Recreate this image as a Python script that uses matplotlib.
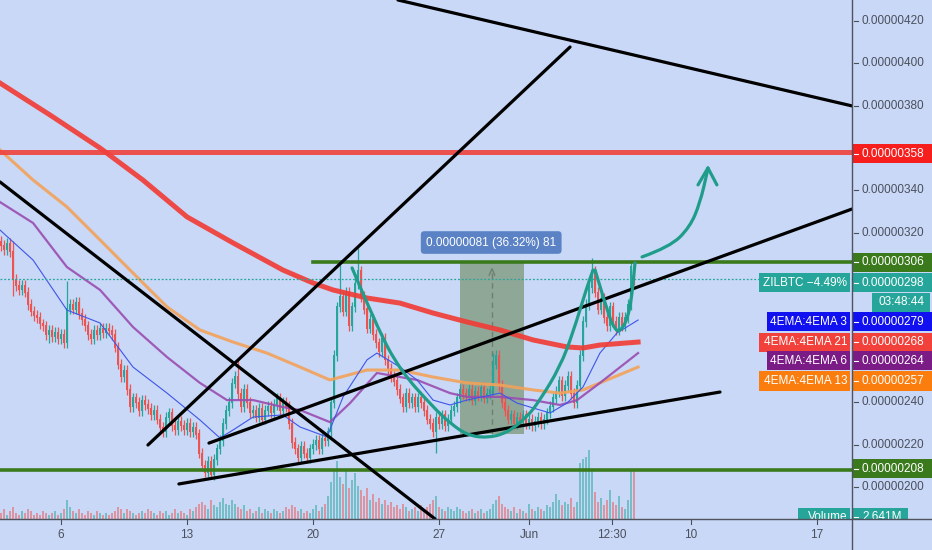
import matplotlib
matplotlib.use("Agg")
import matplotlib.pyplot as plt
from matplotlib.patches import Rectangle, PathPatch
from matplotlib.path import Path
from matplotlib.lines import Line2D
import numpy as np

plt.rcParams['font.family'] = ['Liberation Sans', 'DejaVu Sans']

# ---- data (prices in satoshi, time in days since May 1, 4h candles) ----
first_candle_day = 1.667
closes = [
    314, 312, 315, 311, 298, 295,
    293, 295, 292, 286, 283, 281,
    280, 277, 276, 272, 274, 271,
    273, 270, 272, 268, 284, 286,
    284, 287, 282, 279, 276, 272,
    270, 274, 272, 275, 273, 275,
    274, 272, 266, 258, 252, 255,
    246, 238, 242, 240, 236, 241,
    239, 237, 234, 236, 232, 228,
    226, 233, 235, 229, 227, 231,
    229, 227, 230, 226, 228, 225,
    216, 210, 207, 212, 206, 213,
    218, 222, 230, 236, 240, 249,
    252, 244, 238, 246, 240, 235,
    236, 233, 237, 232, 236, 238,
    235, 239, 242, 236, 240, 238,
    230, 221, 218, 214, 219, 216,
    214, 218, 220, 222, 218, 223,
    222, 226, 240, 262, 285, 290,
    283, 292, 276, 285, 296, 302,
    290, 284, 275, 279, 272, 268,
    264, 270, 260, 256, 252, 250,
    246, 242, 238, 244, 240, 242,
    238, 242, 240, 236, 232, 230,
    226, 233, 230, 234, 229, 232,
    236, 238, 242, 246, 244, 243,
    246, 241, 245, 243, 247, 242,
    244, 246, 258, 262, 248, 240,
    236, 232, 234, 230, 233, 231,
    234, 230, 232, 229, 231, 233,
    230, 232, 235, 238, 242, 245,
    250, 243, 248, 252, 244, 240,
    248, 262, 278, 286, 294, 302,
    292, 284, 289, 280, 276, 285,
    278, 274, 280, 276, 280, 286,
    304, 298,
]
first_open = 316
spike_high = {4: 316, 22: 297, 79: 260, 113: 305, 119: 313, 164: 263, 197: 308, 210: 306}
spike_low = {4: 290, 16: 268, 70: 204.5, 145: 216}

volumes = [  # millions
    0.3, 0.5, 0.2, 0.4, 0.6, 0.3,
    0.2, 0.4, 0.3, 0.5, 0.4, 0.2,
    0.3, 0.2, 0.4, 0.3, 0.2, 0.3,
    0.4, 0.2, 0.3, 0.5, 1.0, 0.6,
    0.4, 0.3, 0.5, 0.3, 0.2, 0.4,
    0.3, 0.2, 0.4, 0.3, 0.2, 0.3,
    0.2, 0.3, 0.4, 0.6, 0.5, 0.3,
    0.5, 0.4, 0.3, 0.2, 0.3, 0.4,
    0.3, 0.5, 0.4, 0.3, 0.2, 0.4,
    0.3, 0.4, 0.2, 0.3, 0.5, 0.3,
    0.4, 0.3, 0.2, 0.5, 0.4, 0.6,
    0.8, 0.9, 0.7, 0.5, 1.0, 0.7,
    0.6, 0.9, 1.1, 0.8, 0.7, 1.0,
    0.8, 0.6, 0.5, 0.7, 0.4, 0.5,
    0.3, 0.4, 0.6, 0.3, 0.5, 0.4,
    0.3, 0.5, 0.4, 0.3, 0.4, 0.6,
    0.5, 0.7, 0.6, 0.4, 0.5, 0.3,
    0.4, 0.3, 0.5, 0.7, 0.4, 0.6,
    0.8, 1.2, 1.9, 2.5, 3.0, 2.2,
    1.8, 2.6, 1.6, 2.0, 2.4, 1.7,
    1.5, 1.2, 1.6, 1.0, 1.3, 0.9,
    1.1, 0.8, 1.0, 0.7, 0.9, 0.6,
    0.7, 0.5, 0.8, 0.6, 0.4, 0.5,
    0.6, 0.4, 0.7, 0.5, 0.6, 0.8,
    1.0, 1.2, 0.6, 0.5, 0.4, 0.6,
    0.5, 0.4, 0.6, 0.5, 0.4, 0.3,
    0.4, 0.5, 0.3, 0.4, 0.5, 0.3,
    0.4, 0.5, 0.8, 1.0, 1.2, 0.8,
    0.6, 0.5, 0.4, 0.6, 0.3, 0.5,
    0.4, 0.3, 0.8, 0.5, 0.4, 0.6,
    0.5, 0.4, 0.7, 0.6, 0.9, 1.3,
    1.0, 0.7, 0.9, 0.8, 1.1, 0.6,
    0.9, 2.9, 3.1, 3.2, 3.6, 2.5,
    1.4, 0.9, 1.1, 0.7, 1.0, 1.5,
    0.9, 0.7, 1.2, 0.6, 0.5, 1.0,
    2.5, 2.6,
]

ema_red_d = [1.61, 4.39, 7.17, 9.55, 12.0, 14.56, 17.33, 19.0, 20.11, 22.0, 23.83, 25.67, 27.55, 29.39, 31.22, 33.11, 34.0, 34.94, 37.06]
ema_red_v = [390.7, 375.6, 360.0, 344.9, 327.5, 315.2, 302.4, 296.3, 293.0, 289.2, 286.8, 282.1, 277.9, 274.1, 269.4, 266.1, 265.6, 267.0, 268.4]
ema_orange_d = [1.61, 3.45, 5.33, 7.17, 9.0, 10.89, 12.72, 14.56, 16.44, 18.28, 19.94, 22.0, 23.83, 25.67, 27.55, 29.39, 31.22, 32.72, 34.0, 34.94, 37.06]
ema_orange_v = [359.1, 344.9, 332.2, 316.6, 301.0, 285.0, 274.1, 268.4, 263.2, 256.6, 250.5, 255.2, 255.2, 251.9, 249.1, 248.1, 245.8, 244.3, 245.8, 249.1, 256.6]
ema_purple_d = [1.61, 3.45, 5.33, 7.17, 9.0, 10.89, 12.72, 14.22, 15.67, 17.33, 18.28, 19.94, 21.06, 22.55, 23.83, 24.78, 26.61, 27.55, 29.39, 31.22, 32.72, 33.67, 34.94, 37.06]
ema_purple_v = [334.5, 324.6, 303.8, 293.0, 275.5, 261.3, 249.1, 241.0, 241.0, 237.7, 236.3, 230.6, 239.6, 253.8, 251.9, 250.5, 244.3, 242.5, 242.5, 241.0, 238.7, 241.0, 249.1, 263.2]
ema_blue_d = [1.61, 3.45, 5.33, 7.17, 9.0, 10.89, 12.72, 13.83, 14.56, 15.67, 17.33, 18.28, 19.78, 20.67, 22.0, 22.55, 23.83, 24.78, 25.67, 26.61, 27.55, 29.39, 30.33, 31.22, 32.17, 33.11, 34.0, 34.94, 35.89, 37.06]
ema_blue_v = [321.3, 307.1, 283.5, 277.4, 256.6, 244.3, 231.6, 223.1, 226.9, 233.0, 234.0, 228.3, 223.6, 242.5, 260.0, 263.2, 256.6, 250.5, 241.0, 238.7, 241.0, 244.3, 239.6, 237.3, 234.9, 239.6, 247.2, 263.2, 272.7, 278.8]

# drawn trend lines: ((day, price), (day, price))
trend_lines = [
    ((23.72, 429.9), (48.94, 379.9)),
    ((9.83, 219.8), (33.28, 407.7)),
    ((1.61, 344.0), (25.78, 184.9)),
    ((13.22, 220.7), (48.94, 331.2)),
    ((11.55, 201.4), (41.61, 244.8)),
]
cup_d = [21.17, 22.55, 23.83, 25.67, 26.61, 27.55, 28.67, 29.78, 30.89, 31.61, 32.72, 33.44, 34.22, 34.56]
cup_v = [303.4, 275.5, 255.2, 237.7, 230.2, 224.5, 223.1, 225.5, 233.0, 241.0, 256.6, 272.7, 294.4, 302.4]
handle_d = [34.67, 35.22, 35.67, 36.06, 36.61, 36.89]
handle_v = [302.4, 286.8, 275.5, 272.7, 282.1, 305.7]
arrow_d = [37.28, 38.83, 39.94, 40.5, 40.89, 40.94]
arrow_v = [308.6, 313.3, 322.7, 334.1, 348.2, 350.6]
arrow_head_d = [40.39, 40.94, 41.44]
arrow_head_v = [342.6, 350.6, 342.6]

resistance = 358
green_top, green_top_start = 306, 19.0
green_bottom = 208
last_price = 298
range_box = (27.17, 30.72, 225, 306)
range_text = "0.00000081 (36.32%) 81"

axis_ticks = [420, 400, 380, 340, 320, 240, 220, 200]
date_ticks = [5, 12, 19, 26, 31, 35.6, 40, 47]
date_labels = ["6", "13", "20", "27", "Jun", "12:30", "10", "17"]

# ---- style ----
BG = '#c8d8f6'
UP, DOWN = '#26a69a', '#ef5350'
TXT = '#4a4f5c'
W, H = 932, 550
plot_w, plot_h = 852, 519
xlim = (1.611, 1.611 + plot_w / 18.0)
ylim = (429.9 - plot_h / 2.118, 429.9)

fig = plt.figure(figsize=(W / 100, H / 100), dpi=100, facecolor=BG)
rect = [0, (H - plot_h) / H, plot_w / W, plot_h / H]
axv = fig.add_axes(rect, zorder=1)
ax = fig.add_axes(rect, zorder=2)
axv.set_facecolor(BG)
ax.patch.set_visible(False)
for a in (ax, axv):
    a.set_xlim(*xlim)
    a.axis('off')
ax.set_ylim(*ylim)
axv.set_ylim(0, plot_h / 19.3)

closes = np.array(closes, float)
opens = np.concatenate([[first_open], closes[:-1]])
t = first_candle_day + np.arange(len(closes)) / 6.0
highs = np.maximum(opens, closes) + 2.5
lows = np.minimum(opens, closes) - 2.5
for i, v in spike_high.items():
    highs[i] = v
for i, v in spike_low.items():
    lows[i] = v
up = closes >= opens
cols = np.where(up, UP, DOWN)

# volume
axv.bar(t, volumes, width=0.15, color=cols, alpha=0.5, linewidth=0)

# range measurement box
x0, x1, y0, y1 = range_box
ax.add_patch(Rectangle((x0, y0), x1 - x0, y1 - y0, fc='#8fa797', ec='none', zorder=1))
xm = (x0 + x1) / 2
ax.plot([xm, xm], [y0, y1 - 3], ls=(0, (4, 3)), color='#6d7f74', lw=1, zorder=1.5)
ax.plot([xm - 0.15, xm, xm + 0.15], [y1 - 6, y1 - 3, y1 - 6], color='#6d7f74', lw=1, zorder=1.5)

# candles
ax.vlines(t, lows, highs, colors=cols, lw=0.9, zorder=3)
ax.bar(t, np.abs(closes - opens) + 0.5, bottom=np.minimum(opens, closes) - 0.25,
       width=0.135, color=cols, linewidth=0, zorder=3)

# EMAs
ax.plot(ema_orange_d, ema_orange_v, color='#f3a25a', lw=2.2, alpha=0.9, zorder=4)
ax.plot(ema_purple_d, ema_purple_v, color='#9a4cb0', lw=1.6, alpha=0.9, zorder=4)
ax.plot(ema_blue_d, ema_blue_v, color='#3f55e8', lw=0.8, zorder=4)
ax.plot(ema_red_d, ema_red_v, color='#f23a33', lw=3.6, alpha=0.9, zorder=4)

# horizontal levels
ax.axhline(resistance, color='#f0413c', lw=3.6, alpha=0.9, zorder=5)
ax.plot([green_top_start, xlim[1]], [green_top, green_top], color='#3a7a1c', lw=2.6, zorder=5)
ax.axhline(green_bottom, color='#3a7a1c', lw=2.6, zorder=5)
ax.axhline(last_price, color=UP, lw=0.9, ls=(0, (1.5, 1.5)), zorder=5)

# trend lines
for (xa, ya), (xb, yb) in trend_lines:
    ax.plot([xa, xb], [ya, yb], color='black', lw=2.3, zorder=6, solid_capstyle='round')


def smooth(xs, ys):
    # quadratic curve through the midpoints of the drawn stroke
    pts = list(zip(xs, ys))
    verts, codes = [pts[0]], [Path.MOVETO]
    for i in range(1, len(pts) - 1):
        mid = ((pts[i][0] + pts[i + 1][0]) / 2, (pts[i][1] + pts[i + 1][1]) / 2)
        verts += [pts[i], mid]
        codes += [Path.CURVE3, Path.CURVE3]
    verts.append(pts[-1])
    codes.append(Path.LINETO)
    return Path(verts, codes)


teal = '#1f9d8a'
for xs, ys in [(cup_d, cup_v), (handle_d, handle_v), (arrow_d, arrow_v)]:
    ax.add_patch(PathPatch(smooth(xs, ys), fill=False, ec=teal, lw=2.3, zorder=6,
                           capstyle='round'))
ax.plot(arrow_head_d, arrow_head_v, color=teal, lw=2.3, zorder=6, solid_capstyle='round',
        solid_joinstyle='round')

# range label
ax.text(28.9, 315.4, range_text, ha='center', va='center', color='white', fontsize=8.5, zorder=8,
        bbox=dict(boxstyle='round,pad=0.45,rounding_size=0.3', fc='#5a82c5', ec='none'))

# ---- right price scale ----
yt = ax.get_yaxis_transform()
xr0, xr1 = 1.0, W / plot_w
box_h = 9.0


def fmt(v):
    return f"{v * 1e-8:.8f}"


def tag(x0, x1, y, text, fc, ha='left', tx=None, dash=True):
    ax.add_patch(Rectangle((x0, y - box_h / 2), x1 - x0, box_h, transform=yt, fc=fc, ec='none',
                           clip_on=False, zorder=20))
    if tx is None:
        tx = x0 + 10 / plot_w if ha == 'left' else x1 - 3 / plot_w
    ax.text(tx, y, text, transform=yt, ha=ha, va='center', color='white', fontsize=8.5,
            clip_on=False, zorder=21)
    if dash:
        ax.plot([x0 + 2 / plot_w, x0 + 6 / plot_w], [y, y], transform=yt, color='white', lw=0.8,
                clip_on=False, zorder=21)


for v in axis_ticks:
    ax.text(1 + 10 / plot_w, v, fmt(v), transform=yt, ha='left', va='center', color=TXT,
            fontsize=8.5, clip_on=False)
    ax.plot([1 + 2 / plot_w, 1 + 6 / plot_w], [v, v], transform=yt, color=TXT, lw=0.8,
            clip_on=False)

tag(xr0, xr1, 357.4, fmt(358), '#f71e1e')
tag(xr0, xr1, 306, fmt(306), '#3a7a1c')
tag(xr0, xr1, 296.5, fmt(298), '#26a69a')
tag(872 / plot_w, 930 / plot_w, 287.1, "03:48:44", '#26a69a', ha='center',
    tx=901 / plot_w, dash=False)
tag(xr0, xr1, 277.9, fmt(279), '#1010f0')
tag(xr0, xr1, 268.4, fmt(268), '#f2413a')
tag(xr0, xr1, 259.5, fmt(264), '#7b1b86')
tag(xr0, xr1, 250.0, fmt(257), '#fb7d0e')
tag(xr0, xr1, 208.5, fmt(208), '#3a7a1c')
tag(xr0, 908 / plot_w, 185.6, "2.641M", '#26a69a')

tag(759 / plot_w, 850 / plot_w, 296.5, "ZILBTC \u22124.49%", '#26a69a', ha='right', dash=False)
tag(767 / plot_w, 850 / plot_w, 277.9, "4EMA:4EMA 3", '#1010f0', ha='right', dash=False)
tag(759 / plot_w, 850 / plot_w, 268.4, "4EMA:4EMA 21", '#f2413a', ha='right', dash=False)
tag(767 / plot_w, 850 / plot_w, 259.5, "4EMA:4EMA 6", '#7b1b86', ha='right', dash=False)
tag(759 / plot_w, 850 / plot_w, 250.0, "4EMA:4EMA 13", '#fb7d0e', ha='right', dash=False)
tag(798 / plot_w, 850 / plot_w, 185.6, "Volume", '#26a69a', ha='right', dash=False)

# ---- date strip (covers anything below the price pane) ----
axb = fig.add_axes([0, 0, 1, (H - plot_h) / H], zorder=10)
axb.set_facecolor(BG)
axb.set_xlim(xlim[0], xlim[0] + W / 18.0)
axb.set_ylim(0, 1)
axb.axis('off')
axb.add_patch(Rectangle((0, 0), 1, 1, transform=axb.transAxes, fc=BG, ec='none'))
for d, lab in zip(date_ticks, date_labels):
    axb.text(d, 0.47, lab, ha='center', va='center', color=TXT, fontsize=8.5)
    axb.plot([d, d], [1, 0.84], color=TXT, lw=0.8)

# axis lines
fig.add_artist(Line2D([plot_w / W, plot_w / W], [0, 1], color='#4e535e', lw=1.0, zorder=30))
fig.add_artist(Line2D([0, 1], [(H - plot_h) / H] * 2, color='#4e535e', lw=1.0, zorder=30))

fig.savefig('out.png', dpi=100, facecolor=BG)
